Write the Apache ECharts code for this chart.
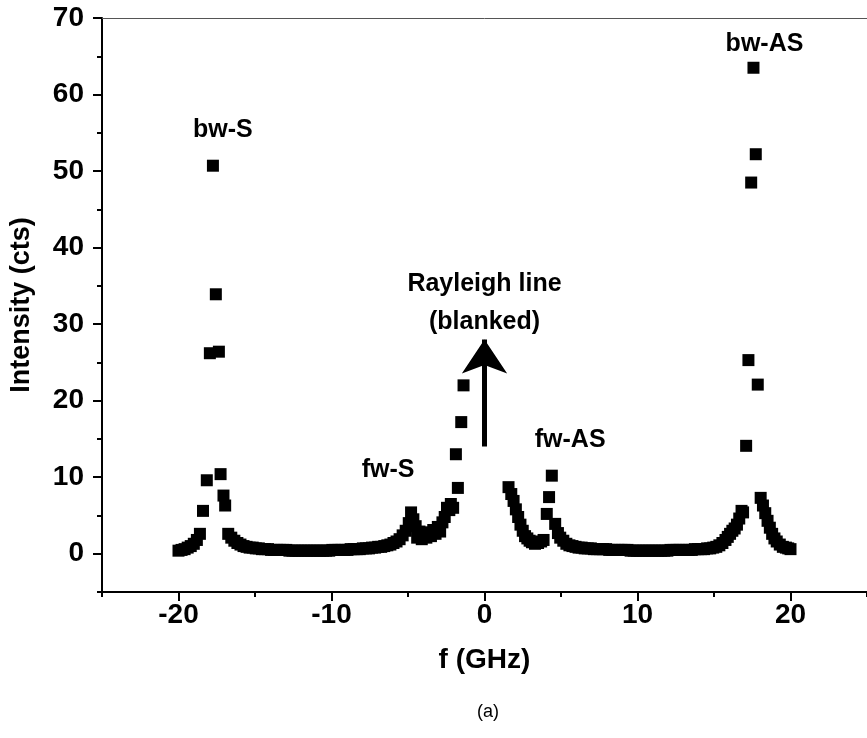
<!DOCTYPE html>
<html><head><meta charset="utf-8">
<script src="https://cdn.jsdelivr.net/npm/echarts@6/dist/echarts.min.js"></script>
<style>html,body{margin:0;padding:0;background:#fff}#c{width:867px;height:738px}</style>
</head><body><div id="c"></div>
<script>
// Brillouin spectrum: frequency shift (GHz) and intensity (cts)
const freq = [
 -20.0,-19.8,-19.6,-19.4,-19.2,-19.0,-18.8,-18.6,-18.4,-18.15,
 -17.95,-17.75,-17.56,-17.36,-17.25,-17.06,-16.95,-16.75,-16.55,-16.35,
 -16.15,-15.95,-15.75,-15.55,-15.35,-15.15,-14.95,-14.75,-14.55,-14.35,
 -14.15,-13.95,-13.75,-13.55,-13.35,-13.15,-12.95,-12.75,-12.55,-12.35,
 -12.15,-11.95,-11.75,-11.55,-11.35,-11.15,-10.95,-10.75,-10.55,-10.35,
 -10.15,-9.95,-9.75,-9.55,-9.35,-9.15,-8.95,-8.75,-8.55,-8.35,
 -8.15,-7.95,-7.75,-7.55,-7.35,-7.15,-6.95,-6.75,-6.55,-6.35,
 -6.15,-5.95,-5.75,-5.55,-5.35,-5.15,-4.95,-4.8,-4.65,-4.5,
 -4.4,-4.25,-4.1,-3.95,-3.8,-3.65,-3.5,-3.35,-3.2,-3.05,
 -2.9,-2.75,-2.6,-2.45,-2.3,-2.2,-2.05,-1.87,-1.74,-1.52,
 -1.37,
 1.57,1.75,1.9,2.05,2.2,2.35,2.5,2.65,2.8,2.95,
 3.1,3.3,3.5,3.7,3.86,4.07,4.22,4.4,4.62,4.8,
 4.95,5.15,5.35,5.55,5.75,5.95,6.15,6.35,6.55,6.75,
 6.95,7.15,7.35,7.55,7.75,7.95,8.15,8.35,8.55,8.75,
 8.95,9.15,9.35,9.55,9.75,9.95,10.15,10.35,10.55,10.75,
 10.95,11.15,11.35,11.55,11.75,11.95,12.15,12.35,12.55,12.75,
 12.95,13.15,13.35,13.55,13.75,13.95,14.15,14.35,14.55,14.75,
 14.95,15.15,15.35,15.55,15.75,15.9,16.05,16.2,16.35,16.5,
 16.65,16.8,16.9,17.1,17.25,17.43,17.58,17.73,17.86,18.05,
 18.2,18.35,18.5,18.65,18.8,18.95,19.1,19.3,19.5,19.7,
 19.85,20.0
];
const counts = [
 0.4,0.5,0.6,0.8,1.0,1.3,1.8,2.6,5.6,9.6,
 26.2,50.7,33.9,26.4,10.4,7.6,6.3,2.6,2.1,1.7,
 1.4,1.2,1.0,0.9,0.8,0.8,0.7,0.7,0.6,0.6,
 0.6,0.5,0.5,0.5,0.5,0.5,0.5,0.4,0.4,0.4,
 0.4,0.4,0.4,0.4,0.4,0.4,0.4,0.4,0.4,0.4,
 0.4,0.5,0.5,0.5,0.5,0.5,0.5,0.6,0.6,0.6,
 0.6,0.7,0.7,0.7,0.8,0.8,0.9,0.9,1.0,1.1,
 1.2,1.4,1.6,1.9,2.4,3.0,4.0,5.4,4.5,3.6,
 2.1,2.9,1.9,2.6,2.1,2.8,2.3,3.1,2.6,3.5,
 2.9,4.1,4.8,6.0,5.7,6.5,6.0,13.0,8.6,17.2,
 22.0,
 8.7,7.8,6.9,5.8,4.8,3.8,3.0,2.3,2.0,1.7,
 1.5,1.3,1.4,1.6,1.8,5.2,7.4,10.2,3.9,2.7,
 2.1,1.7,1.3,1.1,1.0,0.9,0.8,0.8,0.7,0.7,
 0.7,0.6,0.6,0.6,0.6,0.6,0.5,0.5,0.5,0.5,
 0.5,0.5,0.5,0.4,0.4,0.4,0.4,0.4,0.4,0.4,
 0.4,0.4,0.4,0.4,0.4,0.4,0.5,0.5,0.5,0.5,
 0.5,0.5,0.5,0.5,0.6,0.6,0.6,0.6,0.7,0.7,
 0.8,0.9,1.1,1.4,1.8,2.2,2.6,3.0,3.3,3.8,
 4.6,5.6,5.4,14.1,25.3,48.5,63.5,52.2,22.1,7.3,
 6.3,5.3,4.3,3.4,2.6,2.0,1.6,1.2,0.9,0.8,
 0.7,0.6
];
const xMajorTicks = [-20, -10, 0, 10, 20];
const xMinorTicks = [-25, -15, -5, 5, 15, 25];
const yMajorTicks = [0, 10, 20, 30, 40, 50, 60, 70];
const yMinorTicks = [-5, 5, 15, 25, 35, 45, 55, 65];
const annText = ['bw-S', 'bw-AS', 'Rayleigh line', '(blanked)', 'fw-S', 'fw-AS'];
const annX = [-17.1, 18.3, 0, 0, -6.3, 5.6];
const annY = [55.4, 66.6, 35.2, 30.2, 10.9, 14.8];
const arrowStart = [0, 14];
const arrowEnd = [0, 28];

const FONT = "'Liberation Sans', Arial, Helvetica, sans-serif";
const chart = echarts.init(document.getElementById('c'), null, {renderer: 'canvas'});
const tickLbl = {color: '#000', fontFamily: FONT, fontWeight: 'bold', fontSize: 28};
chart.setOption({
  animation: false,
  backgroundColor: '#fff',
  title: {text: '(a)', left: 472, top: 698,
    textStyle: {color: '#000', fontFamily: FONT, fontWeight: 'normal', fontSize: 18}},
  grid: {left: 102, right: -1, top: 18, bottom: 146},
  xAxis: [
    {type: 'value', min: -25, max: 25, interval: 5, position: 'bottom',
     axisLine: {onZero: false, lineStyle: {color: '#000', width: 2}},
     axisTick: {customValues: xMajorTicks, length: 9, lineStyle: {color: '#000', width: 2}},
     axisLabel: Object.assign({customValues: xMajorTicks, margin: 9,
       formatter: v => (v % 10 === 0 ? String(v) : '')}, tickLbl),
     splitLine: {show: false},
     name: 'f (GHz)', nameLocation: 'middle', nameGap: 54,
     nameTextStyle: {color: '#000', fontFamily: FONT, fontWeight: 'bold', fontSize: 28}},
    {type: 'value', min: -25, max: 25, interval: 5, position: 'bottom',
     axisLine: {show: false, onZero: false},
     axisTick: {customValues: xMinorTicks, length: 5, lineStyle: {color: '#000', width: 2}},
     axisLabel: {show: false}, splitLine: {show: false}},
    {type: 'value', min: -25, max: 25, position: 'top',
     axisLine: {onZero: false, lineStyle: {color: '#555', width: 1}},
     axisTick: {show: false}, axisLabel: {show: false}, splitLine: {show: false}}
  ],
  yAxis: [
    {type: 'value', min: -5, max: 70, interval: 5, position: 'left',
     axisLine: {show: true, onZero: false, lineStyle: {color: '#000', width: 2}},
     axisTick: {show: true, customValues: yMajorTicks, length: 9, lineStyle: {color: '#000', width: 2}},
     axisLabel: Object.assign({customValues: yMajorTicks, margin: 18,
       formatter: v => (v % 10 === 0 ? String(v) : '')}, tickLbl),
     splitLine: {show: false}},
    {type: 'value', min: -5, max: 70, interval: 5, position: 'left',
     axisLine: {show: false, onZero: false},
     axisTick: {show: true, customValues: yMinorTicks, length: 5, lineStyle: {color: '#000', width: 2}},
     axisLabel: {show: false}, splitLine: {show: false}}
  ],
  graphic: [{
    type: 'text', x: 22, y: 305, rotation: Math.PI / 2,
    style: {text: 'Intensity (cts)', fill: '#000', textAlign: 'center', textVerticalAlign: 'middle',
      font: "bold 27px 'Liberation Sans', Arial, sans-serif"}
  }],
  series: [
    {type: 'scatter', xAxisIndex: 0, yAxisIndex: 0, symbol: 'rect', symbolSize: 12,
     itemStyle: {color: '#000', opacity: 1}, data: freq.map((f, i) => [f, counts[i]]), z: 3},
    {type: 'lines', coordinateSystem: 'cartesian2d', xAxisIndex: 0, yAxisIndex: 0,
     symbol: ['none', 'arrow'], symbolSize: [20, 34],
     lineStyle: {color: '#000', width: 5, opacity: 1},
     data: [{coords: [arrowStart, arrowEnd]}], z: 4},
    {type: 'scatter', xAxisIndex: 0, yAxisIndex: 0, symbolSize: 0,
     itemStyle: {opacity: 1},
     label: {show: true, position: 'inside', formatter: '{b}', color: '#000', opacity: 1,
       fontFamily: FONT, fontWeight: 'bold', fontSize: 25},
     data: annText.map((t, i) => ({name: t, value: [annX[i], annY[i]]})), z: 5}
  ]
});
</script></body></html>
